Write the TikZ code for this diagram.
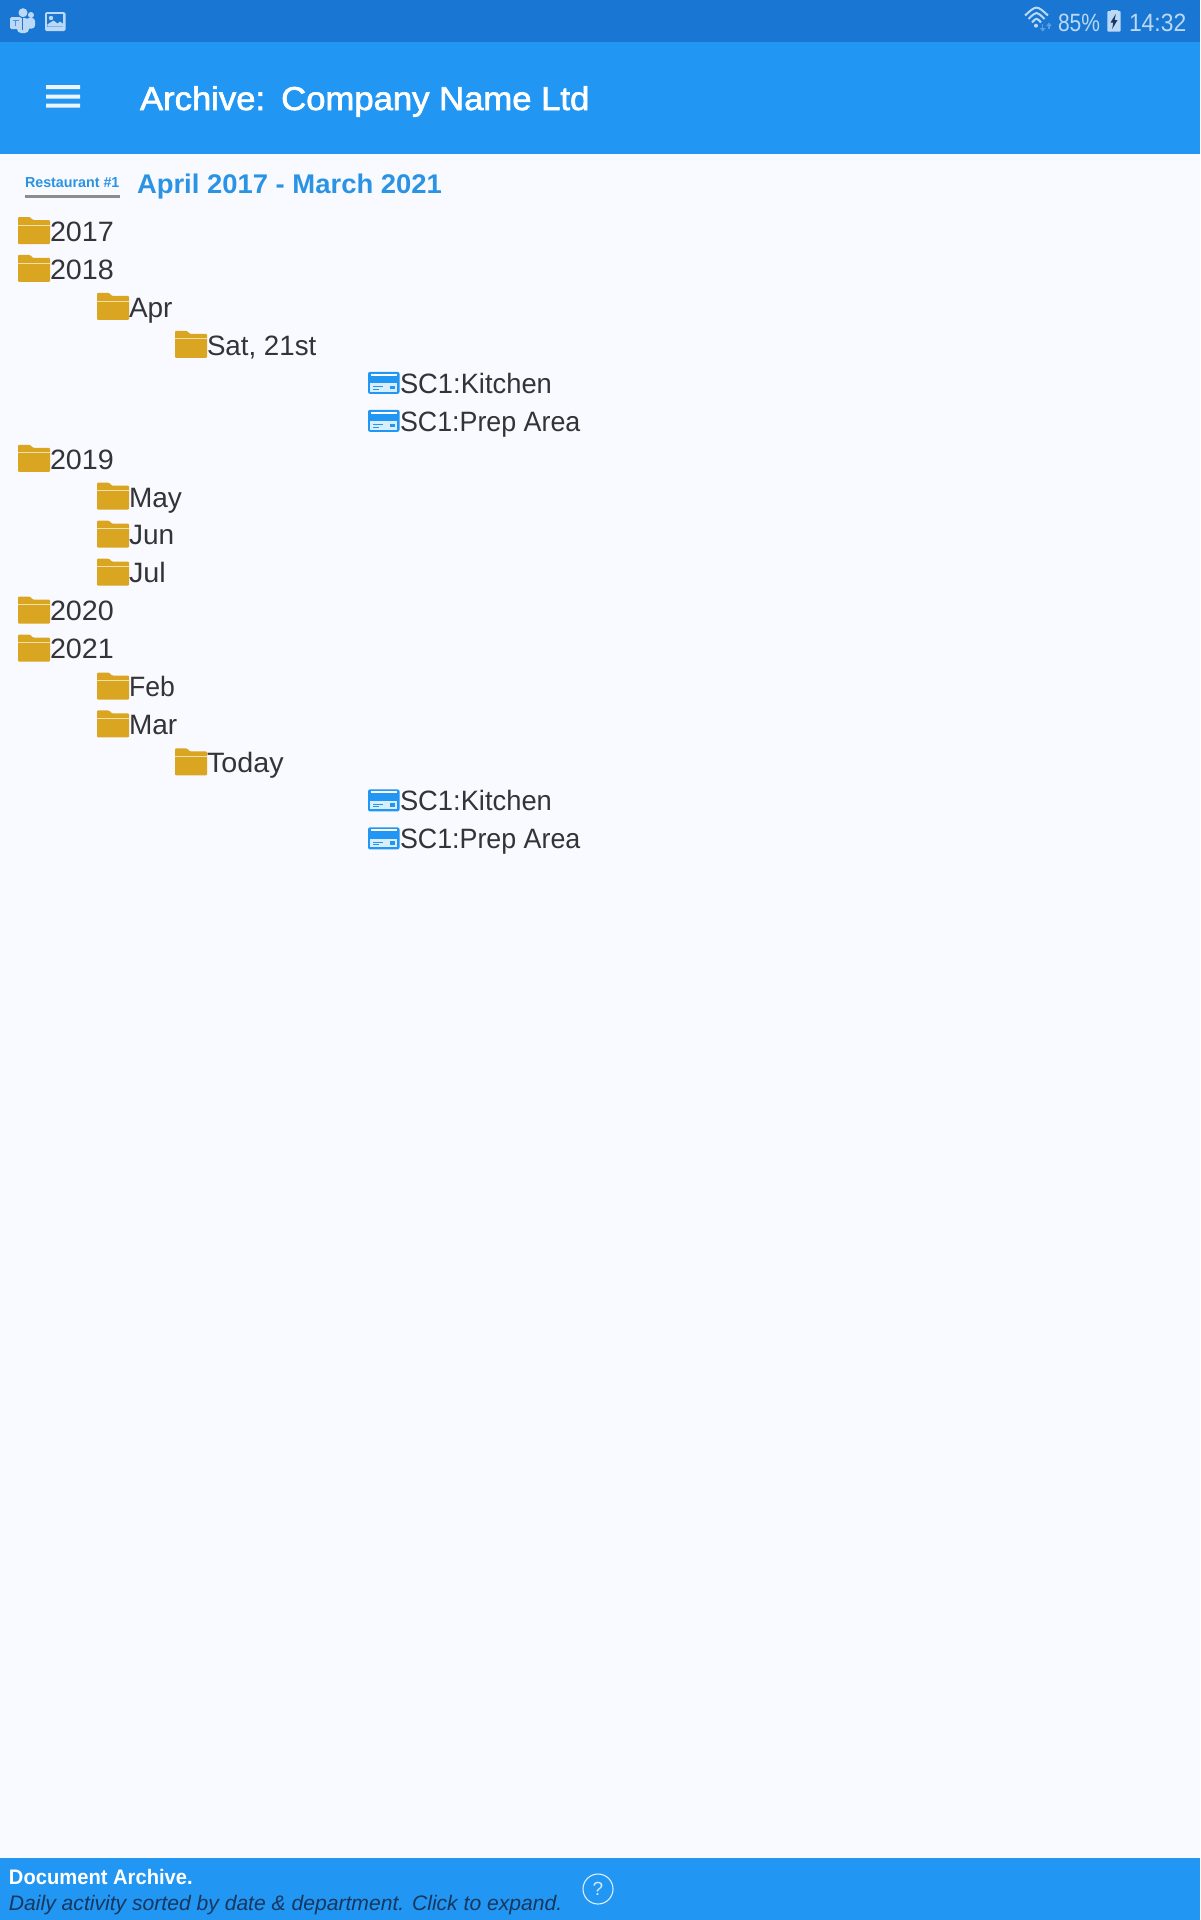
\documentclass[tikz,border=0pt]{standalone}
\usepackage{fontspec}
\setmainfont{Liberation Sans}
\newfontfamily\medfont[FakeBold=2.0]{Liberation Sans}
\definecolor{statusbar}{HTML}{1976D2}
\definecolor{appbar}{HTML}{2196F3}
\definecolor{pagebg}{HTML}{F9FAFF}
\definecolor{folder}{HTML}{DAA520}
\definecolor{folderline}{HTML}{F3DFA8}
\definecolor{inktext}{HTML}{333338}
\definecolor{statusink}{HTML}{BBD9F6}
\definecolor{statusarrow}{HTML}{5A9DE3}
\definecolor{heading}{HTML}{2A93E4}
\definecolor{cardlight}{HTML}{D9EEFC}
\definecolor{hintink}{HTML}{17375E}
\newcommand{\fs}[1]{\fontsize{#1}{#1}\selectfont}
\tikzset{
  x=1pt,y=-1pt,
  lbl/.style={anchor=base west,inner sep=0pt,outer sep=0pt},
  rowtext/.style={lbl,text=inktext,font=\fs{28}},
  statustext/.style={lbl,text=statusink,font=\fs{25},transform shape},
  wifiarc/.style={statusink,line width=2pt},
  pics/foldericon/.style={code={
    \fill[folder,rounded corners=1pt] (0,13) -- (0,-14) -- (12,-14) -- (15,-11) -- (32,-11) -- (32,13) -- cycle;
    \fill[folderline] (0,-6.4) rectangle (32,-5.6);
  }},
  pics/cardicon/.style={code={
    \fill[appbar,rounded corners=2pt] (0,-11) rectangle (31.5,11);
    \fill[white] (2.5,-9) rectangle (29,-7);
    \fill[cardlight] (2.3,0.3) rectangle (29,8.7);
    \fill[appbar] (4.7,3.5) rectangle (15,4.5);
    \fill[appbar] (4.7,6) rectangle (11,7);
    \fill[appbar] (22,3) rectangle (27,6.3);
  }},
}
\newcommand{\treerow}[6]{% name, icon, icon x, row, text, width factor
  \pgfmathsetmacro{\rowy}{231+37.96*#4}
  \pic at (#3,\rowy) {#2};
  \pgfmathsetmacro{\tx}{#3+32}
  \pgfmathsetmacro{\ty}{\rowy+10.3}
  \node[rowtext,xscale=#6,transform shape] (#1) at (\tx,\ty) {#5};
}
\begin{document}
\begin{tikzpicture}
\useasboundingbox (0,0) rectangle (1200,1920);
\fill[pagebg] (0,0) rectangle (1200,1920);
\fill[statusbar] (0,0) rectangle (1200,42);
\fill[appbar] (0,42) rectangle (1200,154);
\fill[appbar] (0,1858) rectangle (1200,1920);

% status bar, left icons
\fill[statusink] (23,12.7) circle (4.5);
\fill[statusink] (31,15) circle (3);
\fill[statusink,rounded corners=3pt] (26,18) rectangle (35,28.5);
\fill[statusink,rounded corners=4pt] (17,18) rectangle (29,33);
\fill[statusbar] (21.5,17) rectangle (23,29.5);
\fill[statusink,rounded corners=1.5pt] (10,17) rectangle (21.5,29);
\draw[statusbar!70!statusink,line width=1.1pt] (13,20.5) -- (18.5,20.5) (15.75,20.5) -- (15.75,26);
\fill[statusink,rounded corners=1.5pt] (45,12) rectangle (65.5,31);
\fill[statusbar] (47.3,14) rectangle (63.3,26.7);
\fill[statusink] (51,18) circle (2.2);
\fill[statusink] (47.3,26.7) -- (47.3,24.5) -- (53.5,20.5) -- (57.5,23.5) -- (60,21.5) -- (63.3,24) -- (63.3,26.7) -- cycle;

% status bar, right
\draw[wifiarc] (1025,15.5) .. controls (1036.5,5) .. (1048,15.5);
\draw[wifiarc] (1028.5,19) .. controls (1036.5,11) .. (1044.5,19);
\draw[wifiarc] (1032,22.5) .. controls (1036.5,17.5) .. (1041,22.5);
\fill[statusink] (1036,25.7) circle (2);
\draw[statusarrow,line width=1.5pt] (1042.7,24) -- (1042.7,29);
\fill[statusarrow] (1039.7,28) -- (1045.7,28) -- (1042.7,31.5) -- cycle;
\draw[statusarrow,line width=1.5pt] (1049,29) -- (1049,25);
\fill[statusarrow] (1046.2,26) -- (1051.8,26) -- (1049,22.5) -- cycle;
\node[statustext,xscale=.84] (battpct) at (1058,31) {85\%};
\fill[statusink] (1110.5,9.5) rectangle (1117.5,12);
\fill[statusink,rounded corners=1pt] (1107.3,11) rectangle (1120.7,31.7);
\fill[hintink] (1115.8,14) -- (1110.5,22.5) -- (1113.2,22.5) -- (1112.2,29) -- (1117.5,20) -- (1114.6,20) -- cycle;
\node[statustext,xscale=.915] (clock) at (1129,31) {14:32};

% app bar
\fill[pagebg,opacity=.95] (46,85) rectangle (80,89) (46,94.5) rectangle (80,98.5) (46,103.5) rectangle (80,107.5);
\node[lbl,text=white,font=\medfont\fs{33},xscale=1.05,transform shape] (title) at (140,110) {Archive:\ \kern-3pt\ Company Name Ltd};

% heading
\node[lbl,text=heading,font=\bfseries\fs{14.5},xscale=.985,transform shape] (site) at (25,187) {Restaurant \#1};
\fill[black!45] (25,195) rectangle (120,197.5);
\node[lbl,text=heading,font=\bfseries\fs{27},xscale=1.016,transform shape] (period) at (137,193) {April 2017 - March 2021};

% tree
\treerow{y2017}{foldericon}{18}{0}{2017}{1.025}
\treerow{y2018}{foldericon}{18}{1}{2018}{1.025}
\treerow{apr}{foldericon}{97}{2}{Apr}{1}
\treerow{sat}{foldericon}{175}{3}{Sat, 21st}{.99}
\treerow{kita}{cardicon}{368}{4}{SC1:Kitchen}{.976}
\treerow{prepa}{cardicon}{368}{5}{SC1:Prep Area}{.958}
\treerow{y2019}{foldericon}{18}{6}{2019}{1.025}
\treerow{may}{foldericon}{97}{7}{May}{1}
\treerow{jun}{foldericon}{97}{8}{Jun}{1}
\treerow{jul}{foldericon}{97}{9}{Jul}{1.03}
\treerow{y2020}{foldericon}{18}{10}{2020}{1.025}
\treerow{y2021}{foldericon}{18}{11}{2021}{1.025}
\treerow{feb}{foldericon}{97}{12}{Feb}{.95}
\treerow{mar}{foldericon}{97}{13}{Mar}{1}
\treerow{today}{foldericon}{175}{14}{Today}{1.025}
\treerow{kitb}{cardicon}{368}{15}{SC1:Kitchen}{.976}
\treerow{prepb}{cardicon}{368}{16}{SC1:Prep Area}{.958}

% footer
\node[lbl,text=white,font=\bfseries\fs{21},xscale=.96,transform shape] (foota) at (9,1884) {Document Archive.};
\node[lbl,text=hintink,font=\itshape\fs{21},xscale=1.005,transform shape] (footb) at (9,1910) {Daily activity sorted by date \& department. Click to expand.};
\node[circle,draw=white!85!appbar,line width=1.1pt,minimum size=30pt,inner sep=0pt,text=white!80!appbar,font=\fs{19}] (help) at (598,1889) {?};
\end{tikzpicture}
\end{document}
